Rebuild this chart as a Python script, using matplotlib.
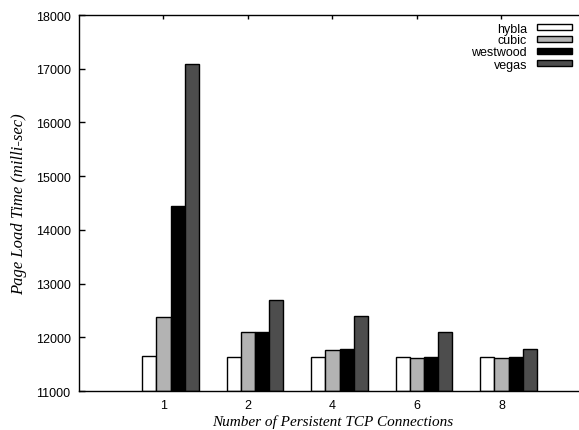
import numpy as np
import matplotlib
matplotlib.use('Agg')
import matplotlib.pyplot as plt

# data
connections = ['1', '2', '4', '6', '8']
hybla = [11650, 11630, 11630, 11640, 11640]
cubic = [12380, 12095, 11765, 11610, 11610]
westwood = [14450, 12100, 11780, 11630, 11625]
vegas = [17080, 12700, 12400, 12095, 11780]

series = [('hybla', hybla, 'white'),
          ('cubic', cubic, '#b3b3b3'),
          ('westwood', westwood, 'black'),
          ('vegas', vegas, '#4d4d4d')]

plt.rcParams['font.family'] = ['Liberation Sans', 'DejaVu Sans']

fig = plt.figure(figsize=(5.79, 4.31), dpi=100)
ax = fig.add_axes([79/579, 39/431, 507/579, 376/431])

x = np.arange(len(connections))
w = 1.0/6
for j, (name, vals, col) in enumerate(series):
    ax.bar(x + (j - 1)*w, np.array(vals) - 11000, bottom=11000, width=w,
           color=col, edgecolor='black', linewidth=1.0, label=name, zorder=2)

ax.set_xlim(-1, 5)
ax.set_ylim(11000, 18000)
ax.set_xticks(x)
ax.set_xticklabels(connections)
ax.set_yticks(range(11000, 18001, 1000))
ax.tick_params(axis='both', direction='in', labelsize=9, width=1)
ax.tick_params(axis='x', top=True, length=3, pad=6)
ax.tick_params(axis='y', length=4, pad=6)
for s in ax.spines.values():
    s.set_linewidth(1)

ax.set_xlabel('Number of Persistent TCP Connections', family='Liberation Serif',
              style='italic', fontsize=11, labelpad=2)
ax.set_ylabel('Page Load Time (milli-sec)', family='Liberation Serif',
              style='italic', fontsize=12, labelpad=6)

ax.legend(loc='upper right', bbox_to_anchor=(572/579, 1 - 23.5/431),
          bbox_transform=fig.transFigure, frameon=False, fontsize=9,
          markerfirst=False, handlelength=2.8, handleheight=0.35,
          handletextpad=0.8, labelspacing=0.0, borderpad=0, borderaxespad=0)

fig.savefig('out.png', dpi=100)
